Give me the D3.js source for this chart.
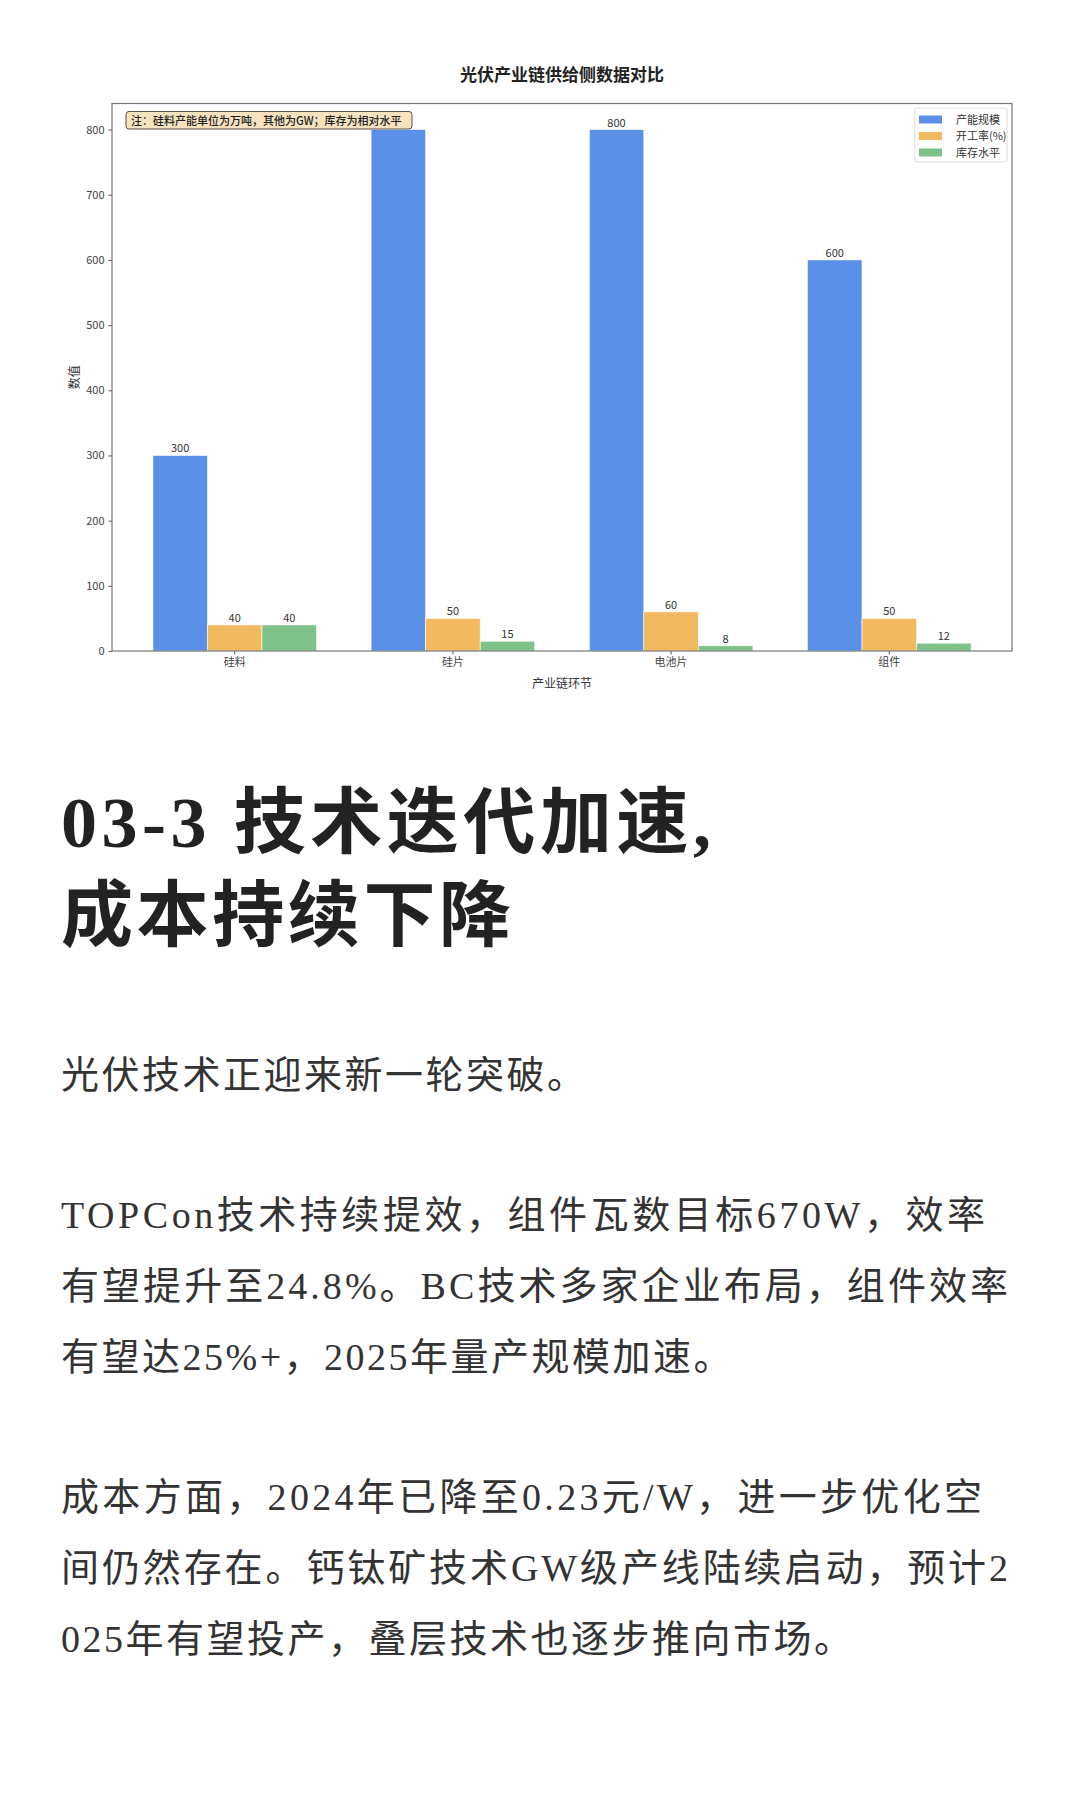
<!DOCTYPE html>
<html>
<head>
<meta charset="utf-8">
<script src="https://cdn.jsdelivr.net/npm/d3@7/dist/d3.min.js"></script>
<style>
  body { margin: 0; background: #fff; }
  svg { display: block; }
</style>
</head>
<body>
<svg id="page" width="1080" height="1800"></svg>
<script>
// chart data
const categories = ['硅料', '硅片', '电池片', '组件'];
const seriesNames = ['产能规模', '开工率(%)', '库存水平'];
const capacity = [300, 800, 800, 600];
const utilization = [40, 50, 60, 50];
const inventory = [40, 15, 8, 12];
const yTicks = [0, 100, 200, 300, 400, 500, 600, 700, 800];

// article text, one entry per rendered line
const headingLines = ['03-3 技术迭代加速,', '成本持续下降'];
const para1 = ['光伏技术正迎来新一轮突破。'];
const para2 = ['TOPCon技术持续提效，组件瓦数目标670W，效率',
  '有望提升至24.8%。BC技术多家企业布局，组件效率',
  '有望达25%+，2025年量产规模加速。'];
const para3 = ['成本方面，2024年已降至0.23元/W，进一步优化空',
  '间仍然存在。钙钛矿技术GW级产线陆续启动，预计2',
  '025年有望投产，叠层技术也逐步推向市场。'];

const colors = ['#5a90e8', '#f3b95f', '#7ec28a'];
const cjk = '"Noto Sans CJK SC", "Noto Sans", sans-serif';

const svg = d3.select('#page');

// ---- chart ----
const plot = { left: 112, right: 1012, top: 103.5, bottom: 651 };
const noteBox = { x: 126, y: 111.5, w: 286, h: 17.5 };

const x = d3.scaleBand()
  .domain(categories)
  .range([plot.left, plot.right])
  .paddingInner(0.25)
  .paddingOuter(0.1875);

const xSub = d3.scaleBand()
  .domain(seriesNames)
  .range([0, x.bandwidth()]);

const y = d3.scaleLinear()
  .domain([0, d3.max(capacity) * 1.05])
  .range([plot.bottom, plot.top]);

const rows = categories.map((c, i) => ({
  category: c,
  values: [capacity[i], utilization[i], inventory[i]]
}));

const chart = svg.append('g').attr('font-family', cjk);

// title
chart.append('text')
  .attr('x', (plot.left + plot.right) / 2)
  .attr('y', 81)
  .attr('text-anchor', 'middle')
  .attr('font-size', 17)
  .attr('font-weight', 700)
  .attr('fill', '#222')
  .text('光伏产业链供给侧数据对比');

// bars
const groups = chart.append('g').selectAll('g')
  .data(rows)
  .enter().append('g')
  .attr('transform', d => `translate(${x(d.category)},0)`);

groups.selectAll('rect')
  .data(d => d.values.map((v, k) => ({ key: seriesNames[k], value: v, k })))
  .enter().append('rect')
  .attr('x', d => xSub(d.key))
  .attr('y', d => y(d.value))
  .attr('width', xSub.bandwidth())
  .attr('height', d => y(0) - y(d.value))
  .attr('fill', d => colors[d.k])
  .attr('stroke', '#fff')
  .attr('stroke-width', 0.6);

// value labels (the note box hides any label that falls under it)
function underNote(d, cat) {
  const cx = x(cat) + xSub(d.key) + xSub.bandwidth() / 2;
  const ty = y(d.value) - 3;
  return cx > noteBox.x && cx < noteBox.x + noteBox.w &&
    ty > noteBox.y - 4 && ty < noteBox.y + noteBox.h + 12;
}

groups.selectAll('text')
  .data(d => d.values
    .map((v, k) => ({ key: seriesNames[k], value: v }))
    .filter(v => !underNote(v, d.category)))
  .enter().append('text')
  .attr('x', d => xSub(d.key) + xSub.bandwidth() / 2)
  .attr('y', d => y(d.value) - 3)
  .attr('text-anchor', 'middle')
  .attr('font-size', 11)
  .attr('fill', '#333')
  .text(d => d.value);

// axes
const yAxis = chart.append('g')
  .attr('transform', `translate(${plot.left},0)`)
  .call(d3.axisLeft(y).tickValues(yTicks).tickSize(3.5).tickPadding(4));

const xAxis = chart.append('g')
  .attr('transform', `translate(0,${plot.bottom})`)
  .call(d3.axisBottom(x).tickSize(3.5).tickPadding(4));

[yAxis, xAxis].forEach(a => {
  a.select('.domain').remove();
  a.selectAll('line').attr('stroke', '#555');
  a.selectAll('text')
    .attr('font-family', cjk)
    .attr('font-size', 11)
    .attr('fill', '#444');
});

// frame
chart.append('rect')
  .attr('x', plot.left)
  .attr('y', plot.top)
  .attr('width', plot.right - plot.left)
  .attr('height', plot.bottom - plot.top)
  .attr('fill', 'none')
  .attr('stroke', '#777')
  .attr('stroke-width', 1.2);

// axis labels
chart.append('text')
  .attr('x', (plot.left + plot.right) / 2)
  .attr('y', 688)
  .attr('text-anchor', 'middle')
  .attr('font-size', 12)
  .attr('fill', '#333')
  .text('产业链环节');

chart.append('text')
  .attr('transform', `translate(79,${(plot.top + plot.bottom) / 2}) rotate(-90)`)
  .attr('text-anchor', 'middle')
  .attr('font-size', 12)
  .attr('fill', '#333')
  .text('数值');

// note box
const note = chart.append('g');
note.append('rect')
  .attr('x', noteBox.x)
  .attr('y', noteBox.y)
  .attr('width', noteBox.w)
  .attr('height', noteBox.h)
  .attr('rx', 3)
  .attr('fill', '#f6e2bd')
  .attr('stroke', '#5a5246')
  .attr('stroke-width', 1);
note.append('text')
  .attr('x', noteBox.x + 5)
  .attr('y', noteBox.y + 13)
  .attr('font-size', 11)
  .attr('font-weight', 500)
  .attr('fill', '#222')
  .text('注：硅料产能单位为万吨，其他为GW；库存为相对水平');

// legend
const legend = chart.append('g').attr('transform', 'translate(915,108)');
legend.append('rect')
  .attr('width', 92)
  .attr('height', 54)
  .attr('rx', 2)
  .attr('fill', '#fff')
  .attr('fill-opacity', 0.8)
  .attr('stroke', '#ddd');
const items = legend.selectAll('g.item')
  .data(seriesNames)
  .enter().append('g')
  .attr('class', 'item')
  .attr('transform', (d, i) => `translate(4,${11.5 + i * 16.5})`);
items.append('rect')
  .attr('y', -4)
  .attr('width', 23)
  .attr('height', 8)
  .attr('fill', (d, i) => colors[i]);
items.append('text')
  .attr('x', 37)
  .attr('y', 4)
  .attr('font-size', 11)
  .attr('fill', '#333')
  .text(d => d);

// ---- article text ----
const serif = '"Liberation Serif", "Noto Sans CJK SC", serif';
const textLeft = 61;
const headingWidths = [650, 450];

svg.append('g')
  .selectAll('text')
  .data(headingLines)
  .enter().append('text')
  .attr('x', textLeft)
  .attr('y', (d, i) => 847 + i * 93)
  .attr('font-family', serif)
  .attr('font-size', 72)
  .attr('font-weight', 600)
  .attr('textLength', (d, i) => headingWidths[i])
  .attr('lengthAdjust', 'spacing')
  .attr('fill', '#222')
  .text(d => d);

// widths of the full lines, last lines keep their natural width
function paragraph(lines, firstCenter, widths) {
  svg.append('g')
    .selectAll('text')
    .data(lines)
    .enter().append('text')
    .attr('x', textLeft)
    .attr('y', (d, i) => firstCenter + 13 + i * 71)
    .attr('font-family', serif)
    .attr('font-size', 38)
    .attr('letter-spacing', (d, i) => widths[i] ? 0 : 2.5)
    .attr('textLength', (d, i) => widths[i] || null)
    .attr('lengthAdjust', 'spacing')
    .attr('fill', '#333')
    .text(d => d);
}

paragraph(para1, 1075, []);
paragraph(para2, 1215, [924, 947]);
paragraph(para3, 1497, [921, 947]);
</script>
</body>
</html>
